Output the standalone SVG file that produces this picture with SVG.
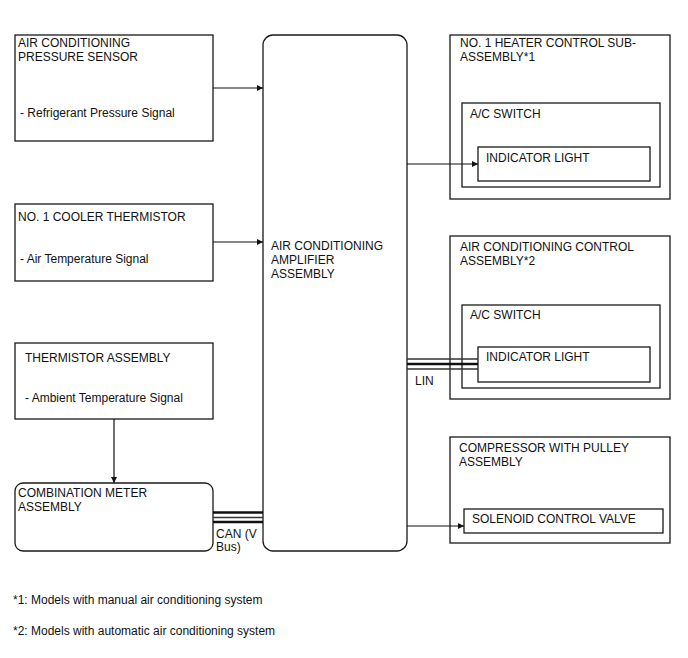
<svg xmlns="http://www.w3.org/2000/svg" width="688" height="658" viewBox="0 0 688 658">
<style>
text{font-family:"Liberation Sans",Arial,sans-serif;font-size:12px;fill:#111}
.b{fill:#fff;stroke:#1a1a1a;stroke-width:1.3}
.c{fill:none;stroke:#111;stroke-width:1.2}
.bt{fill:none;stroke:#111;stroke-width:2.4}
.bn{fill:none;stroke:#333;stroke-width:1.3}
</style>
<defs>
<marker id="ah" viewBox="0 0 10 10" refX="10" refY="5" markerWidth="8" markerHeight="6" markerUnits="userSpaceOnUse" orient="auto">
<path d="M0,0 L10,5 L0,10 z" fill="#111"/>
</marker>
</defs>
<rect width="688" height="658" fill="#fff"/>
<g id="pressure-sensor">
<rect class="b" x="15" y="35" width="198" height="106"/>
<text x="18" y="47">AIR CONDITIONING</text>
<text x="18" y="61">PRESSURE SENSOR</text>
<text x="20" y="117">- Refrigerant Pressure Signal</text>
</g>
<g id="cooler-thermistor">
<rect class="b" x="15" y="204" width="198" height="77"/>
<text x="18" y="221">NO. 1 COOLER THERMISTOR</text>
<text x="20" y="263">- Air Temperature Signal</text>
</g>
<g id="thermistor-assembly">
<rect class="b" x="15" y="343" width="198" height="76"/>
<text x="25" y="362">THERMISTOR ASSEMBLY</text>
<text x="25" y="402">- Ambient Temperature Signal</text>
</g>
<g id="combination-meter">
<rect class="b" x="15" y="483" width="198" height="68" rx="8"/>
<text x="18" y="497">COMBINATION METER</text>
<text x="18" y="511">ASSEMBLY</text>
</g>
<g id="amplifier">
<rect class="b" x="263" y="35" width="144" height="516" rx="10"/>
<text x="271" y="250">AIR CONDITIONING</text>
<text x="271" y="264">AMPLIFIER</text>
<text x="271" y="278">ASSEMBLY</text>
</g>
<g id="heater-control">
<rect class="b" x="450" y="35" width="220" height="164"/>
<text x="460" y="47">NO. 1 HEATER CONTROL SUB-</text>
<text x="460" y="61">ASSEMBLY*1</text>
<rect class="b" x="462" y="103" width="198" height="84"/>
<text x="470" y="118">A/C SWITCH</text>
<rect class="b" x="478" y="147" width="172" height="34"/>
<text x="486" y="162">INDICATOR LIGHT</text>
</g>
<g id="ac-control">
<rect class="b" x="450" y="236" width="220" height="163"/>
<text x="460" y="251">AIR CONDITIONING CONTROL</text>
<text x="460" y="265">ASSEMBLY*2</text>
<rect class="b" x="462" y="305" width="198" height="83"/>
<text x="470" y="319">A/C SWITCH</text>
<rect class="b" x="478" y="347" width="172" height="35"/>
<text x="486" y="361">INDICATOR LIGHT</text>
</g>
<g id="compressor">
<rect class="b" x="450" y="437" width="220" height="106"/>
<text x="459" y="452">COMPRESSOR WITH PULLEY</text>
<text x="459" y="466">ASSEMBLY</text>
<rect class="b" x="464" y="509" width="199" height="24"/>
<text x="472" y="523">SOLENOID CONTROL VALVE</text>
</g>
<g id="connectors">
<line class="c" x1="213" y1="88" x2="263" y2="88" marker-end="url(#ah)"/>
<line class="c" x1="213" y1="242" x2="263" y2="242" marker-end="url(#ah)"/>
<line class="c" x1="114" y1="419" x2="114" y2="483" marker-end="url(#ah)"/>
<line class="c" x1="407" y1="164" x2="478" y2="164" marker-end="url(#ah)"/>
<line class="c" x1="407" y1="526" x2="464" y2="526" marker-end="url(#ah)"/>
<line class="bt" x1="213" y1="512.5" x2="263" y2="512.5"/>
<line class="bn" x1="213" y1="517.5" x2="263" y2="517.5"/>
<line class="bt" x1="213" y1="522" x2="263" y2="522"/>
<line class="bn" x1="407" y1="359" x2="478" y2="359"/>
<line class="bt" x1="407" y1="364" x2="478" y2="364"/>
<line class="bn" x1="407" y1="369" x2="478" y2="369"/>
<text x="216" y="538">CAN (V</text>
<text x="216" y="551">Bus)</text>
<text x="415" y="385">LIN</text>
</g>
<g id="notes">
<text x="13" y="604">*1: Models with manual air conditioning system</text>
<text x="13" y="635">*2: Models with automatic air conditioning system</text>
</g>
</svg>
